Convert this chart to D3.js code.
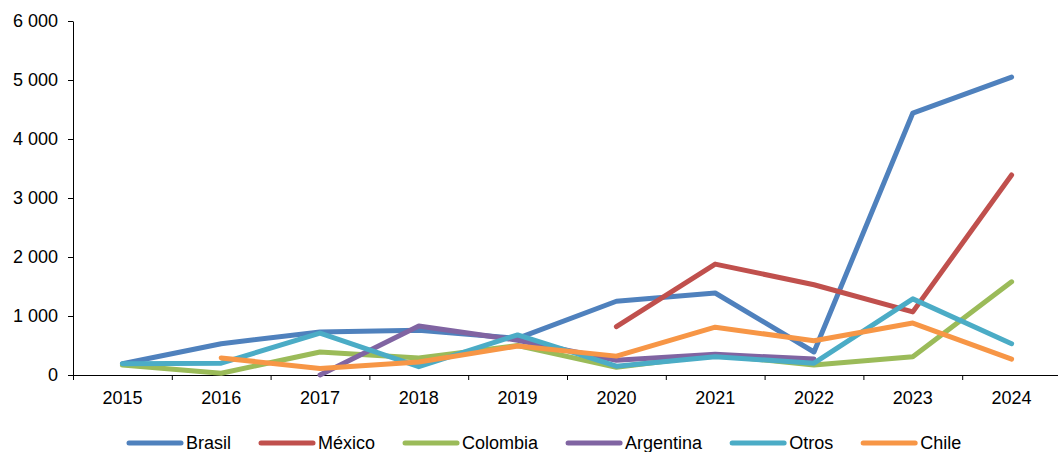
<!DOCTYPE html>
<html lang="es">
<head>
  <meta charset="UTF-8">
  <title>Inversión por país</title>
  <script src="https://d3js.org/d3.v7.min.js"></script>
  <style>
    body {
      margin: 0;
      background: #fff;
      overflow: hidden;
    }
    svg {
      display: block;
      font-family: "Liberation Sans", Arial, sans-serif;
    }
    .axis text {
      font-size: 18px;
      fill: #000;
    }
    .axis path, .axis line {
      stroke: #000;
      stroke-width: 1;
    }
    .serie {
      fill: none;
      stroke-width: 5;
      stroke-linecap: round;
      stroke-linejoin: round;
    }
    .legend text {
      font-size: 18px;
      fill: #000;
    }
  </style>
</head>
<body>
  <svg id="chart"></svg>

  <script>
    const width = 1058;
    const height = 452;

    // data (null = no value)
    const years = ["2015", "2016", "2017", "2018", "2019", "2020", "2021", "2022", "2023", "2024"];
    const brasil    = [190, 530, 730, 760, 620, 1250, 1390, 390, 4440, 5050];
    const mexico    = [null, null, null, null, null, 820, 1880, 1530, 1070, 3390];
    const colombia  = [170, 30, 390, 290, 500, 130, 340, 170, 310, 1580];
    const argentina = [null, null, 0, 830, 590, 250, 350, 270, null, null];
    const otros     = [190, 200, 710, 140, 680, 150, 310, 200, 1290, 530];
    const chile     = [null, 290, 110, 220, 490, 320, 810, 580, 880, 270];
    const yTicks = [0, 1000, 2000, 3000, 4000, 5000, 6000];

    const seriesNames = ["Brasil", "México", "Colombia", "Argentina", "Otros", "Chile"];
    const seriesValues = [brasil, mexico, colombia, argentina, otros, chile];
    const colors = ["#4F81BD", "#C0504D", "#9BBB59", "#8064A2", "#4BACC6", "#F79646"];

    const margin = {top: 21, left: 73, bottom: 77};

    const svg = d3.select("#chart")
      .attr("width", width)
      .attr("height", height);

    const x = d3.scaleBand()
      .domain(years)
      .range([margin.left, margin.left + 98.8 * years.length]);

    const y = d3.scaleLinear()
      .domain([0, 6000])
      .range([height - margin.bottom, margin.top]);

    const fmt = d3.formatLocale({decimal: ",", thousands: " ", grouping: [3], currency: ["", ""]}).format(",d");

    // y axis
    svg.append("g")
      .attr("class", "axis")
      .attr("transform", `translate(${margin.left},0)`)
      .call(d3.axisLeft(y).tickValues(yTicks).tickFormat(fmt).tickSize(5).tickSizeOuter(0).tickPadding(10));

    // x axis: labels centred in bands, tick marks on band edges
    const xAxis = svg.append("g")
      .attr("class", "axis")
      .attr("transform", `translate(0,${y(0)})`)
      .call(d3.axisBottom(x).tickSize(0).tickPadding(16));

    xAxis.selectAll(".tick-edge")
      .data(years)
      .enter().append("line")
      .attr("class", "tick-edge")
      .attr("x1", d => x(d) + 0.5)
      .attr("x2", d => x(d) + 0.5)
      .attr("y1", 0)
      .attr("y2", 5);

    // lines
    const line = d3.line()
      .defined(d => d.v !== null)
      .x(d => x(d.year) + x.bandwidth() / 2)
      .y(d => y(d.v));

    seriesValues.forEach((vals, i) => {
      const pts = vals.map((v, j) => ({year: years[j], v: v}));
      svg.append("path")
        .datum(pts)
        .attr("class", "serie")
        .attr("stroke", colors[i])
        .attr("d", line);
    });

    // legend
    const legend = svg.append("g").attr("class", "legend");
    let lx = 127;
    const ly = 443;
    seriesNames.forEach((name, i) => {
      legend.append("line")
        .attr("x1", lx + 2)
        .attr("x2", lx + 54)
        .attr("y1", ly)
        .attr("y2", ly)
        .attr("stroke", colors[i])
        .attr("stroke-width", 5)
        .attr("stroke-linecap", "round");
      const t = legend.append("text")
        .attr("x", lx + 59)
        .attr("y", ly + 6)
        .text(name);
      lx += 59 + t.node().getComputedTextLength() + 28;
    });
  </script>
</body>
</html>
